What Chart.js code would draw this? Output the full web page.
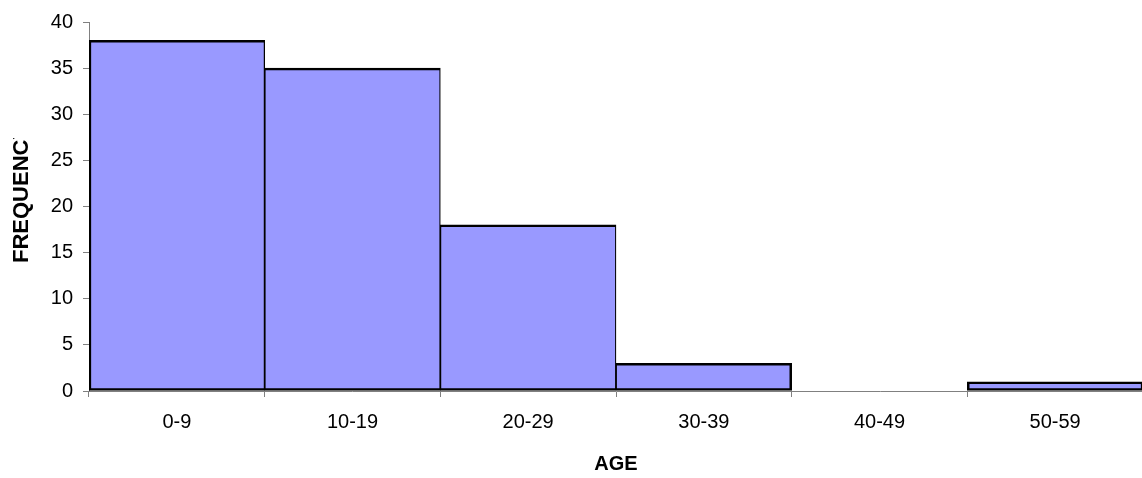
<!DOCTYPE html>
<html>
<head>
<meta charset="utf-8">
<title>Age distribution</title>
<script src="https://cdn.jsdelivr.net/npm/chart.js@4/dist/chart.umd.min.js"></script>
<style>
  html, body { margin: 0; padding: 0; background: #ffffff; overflow: hidden; }
  #wrap { width: 1150px; height: 478px; }
</style>
</head>
<body>
<div id="wrap"><canvas id="chart" width="1150" height="478"></canvas></div>
<script>
// Age groups and how many people fall in each one
const categories = ['0-9', '10-19', '20-29', '30-39', '40-49', '50-59'];
const frequencies = [38, 35, 18, 3, 0, 1];

// Frequency axis range and tick spacing
const yMin = 0;
const yMax = 40;
const yStep = 5;

// Axis titles
const xTitle = 'AGE';
const yTitle = 'FREQUENCY';

const FONT = '"Liberation Sans", Arial, Helvetica, sans-serif';
Chart.defaults.font.family = FONT;
Chart.defaults.color = '#000000';

// Neighbouring bars share one edge, so split the edge width between them
function edgeWidths(ctx) {
  const i = ctx.dataIndex;
  const d = ctx.dataset.data;
  const full = 2.5, half = 1.25;
  const prev = i > 0 && d[i - 1] > 0;
  const next = i < d.length - 1 && d[i + 1] > 0;
  return { top: full, bottom: full, left: prev ? half : full, right: next ? half : full };
}

// Axis titles drawn by hand so they can sit exactly where they belong
const axisTitles = {
  id: 'axisTitles',
  afterDraw(chart) {
    const c = chart.ctx;
    const area = chart.chartArea;
    c.save();
    c.fillStyle = '#000000';
    c.font = 'bold 20px ' + FONT;
    c.textAlign = 'center';
    c.textBaseline = 'alphabetic';
    c.fillText(xTitle, (area.left + area.right) / 2, 470);
    c.restore();

    // The vertical title runs out of room at the top and is cut off there
    c.save();
    c.beginPath();
    c.rect(0, 138, 89, 478);
    c.clip();
    c.translate(28, 263);
    c.rotate(-Math.PI / 2);
    c.fillStyle = '#000000';
    c.font = 'bold 22px ' + FONT;
    c.textAlign = 'left';
    c.textBaseline = 'alphabetic';
    c.fillText(yTitle, 0, 0);
    c.restore();
  }
};

new Chart(document.getElementById('chart'), {
  type: 'bar',
  data: {
    labels: categories,
    datasets: [{
      data: frequencies,
      backgroundColor: '#9999ff',
      borderColor: '#000000',
      borderWidth: edgeWidths,
      borderSkipped: false,
      categoryPercentage: 1.0,
      barPercentage: 1.0
    }]
  },
  options: {
    responsive: false,
    animation: false,
    events: [],
    layout: { padding: { top: 20, right: 7, left: 0, bottom: 0 } },
    plugins: {
      legend: { display: false },
      tooltip: { enabled: false },
      title: { display: false }
    },
    scales: {
      x: {
        offset: true,
        grid: {
          offset: true,
          drawOnChartArea: false,
          drawTicks: true,
          tickLength: 6,
          color: '#808080',
          lineWidth: 1
        },
        border: { display: true, color: '#808080', width: 1 },
        ticks: {
          color: '#000000',
          font: { size: 20 },
          padding: 13,
          maxRotation: 0,
          autoSkip: false
        },
        afterFit(scale) { scale.height = 87; }
      },
      y: {
        min: yMin,
        max: yMax,
        grid: {
          drawOnChartArea: false,
          drawTicks: true,
          tickLength: 6,
          color: '#808080',
          lineWidth: 1
        },
        border: { display: true, color: '#808080', width: 1 },
        ticks: {
          stepSize: yStep,
          color: '#000000',
          font: { size: 20 },
          padding: 10
        },
        afterFit(scale) { scale.width = 89; }
      }
    }
  },
  plugins: [axisTitles]
});
</script>
</body>
</html>
